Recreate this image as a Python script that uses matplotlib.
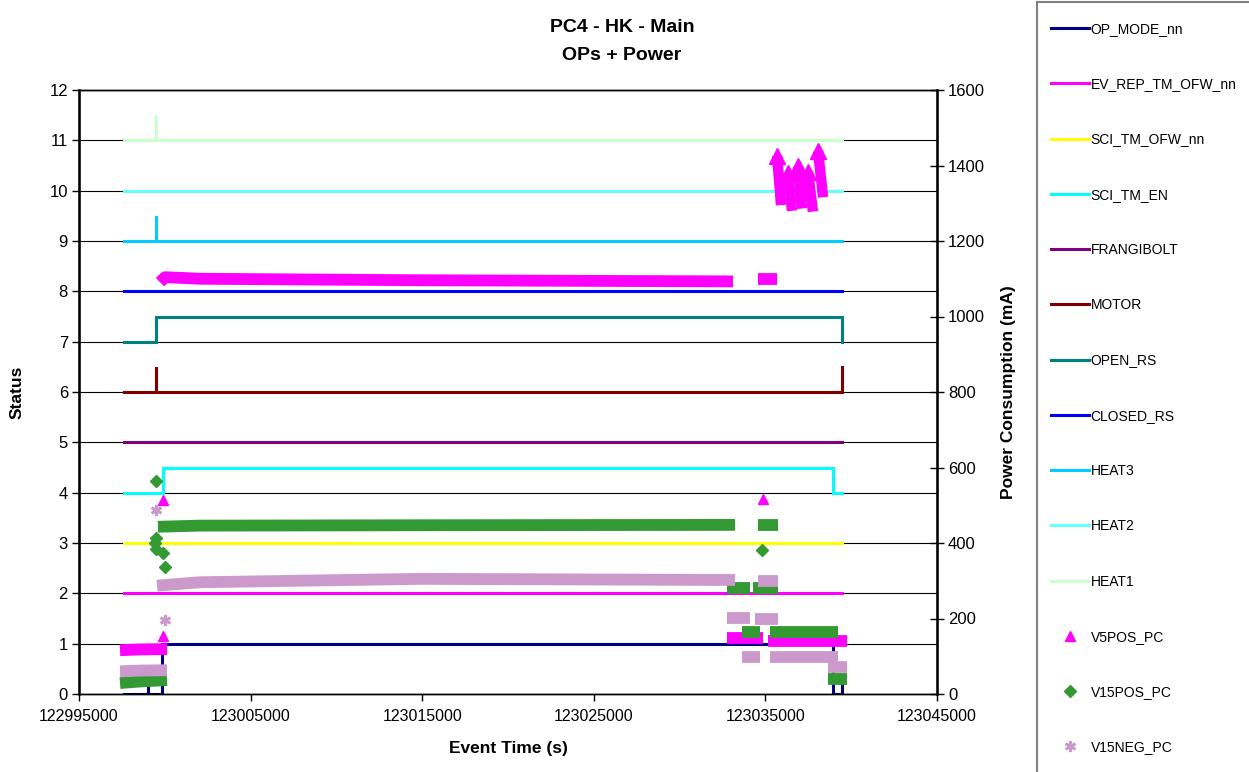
import matplotlib
matplotlib.use("Agg")
import matplotlib.pyplot as plt
from matplotlib.patches import Rectangle

plt.rcParams['font.family'] = ['Liberation Sans', 'DejaVu Sans']

# ---- status lines (left axis) : step points ----
T0 = 122997620
T1 = 123039460

OP_MODE_T = [T0, 122999020, 122999020, 122999020, 122999840, 122999840,
             123038940, 123038940, T1, T1]
OP_MODE_V = [0, 0, 0.5, 0, 0, 1, 1, 0, 0, 0.3]
EV_REP_T = [T0, T1]
EV_REP_V = [2, 2]
SCI_OFW_T = [T0, T1]
SCI_OFW_V = [3, 3]
SCI_EN_T = [T0, 122999900, 122999900, 123038940, 123038940, T1]
SCI_EN_V = [4, 4, 4.5, 4.5, 4, 4]
FRANGI_T = [T0, T1]
FRANGI_V = [5, 5]
MOTOR_T = [T0, 122999490, 122999490, 122999490, T1, T1]
MOTOR_V = [6, 6, 6.5, 6, 6, 6.5]
OPEN_RS_T = [T0, 122999490, 122999490, T1, T1]
OPEN_RS_V = [7, 7, 7.5, 7.5, 7]
CLOSED_RS_T = [T0, T1]
CLOSED_RS_V = [8, 8]
HEAT3_T = [T0, 122999490, 122999490, 122999490, T1]
HEAT3_V = [9, 9, 9.5, 9, 9]
HEAT2_T = [T0, T1]
HEAT2_V = [10, 10]
HEAT1_T = [T0, 122999490, 122999490, 122999490, T1]
HEAT1_V = [11, 11, 11.5, 11, 11]

# ---- power consumption (right axis, mA) ----
# isolated samples
V5POS_T = [122999880, 122999880, 123034840]
V5POS_MA = [514, 154, 516]
V15POS_T = [122999490, 122999490, 122999430, 122999490, 122999880, 123000010, 123034780]
V15POS_MA = [565, 413, 400, 384, 373, 336, 381]
V15NEG_T = [122999490, 123000010]
V15NEG_MA = [488, 196]

# dense runs of samples (read as time / value pairs along each run)
V5POS_BANDS = [
    ([122997390, 122998500, 123000130], [116, 118, 119]),
    ([122999720, 123000010, 123000600, 123002050, 123014870, 123033110],
     [1091, 1104, 1103, 1100, 1096, 1093]),
    ([123034570, 123035680], [1100, 1100]),
    ([123032760, 123034860], [148, 148]),
    ([123035150, 123039750], [140, 140]),
]
# short falling bursts near the end: (top time, bottom time), (top mA, bottom mA)
V5POS_BURSTS = [
    ((123035680, 123035910), (1426, 1295)),
    ((123036320, 123036550), (1381, 1280)),
    ((123036900, 123037130), (1398, 1286)),
    ((123037480, 123037770), (1384, 1278)),
    ((123038070, 123038360), (1438, 1316)),
]
V15POS_BANDS = [
    ([122997390, 122998500, 123000130], [29, 33, 37]),
    ([122999600, 123002050, 123014870, 123033230], [443, 446, 447, 448]),
    ([123034570, 123035730], [448, 448]),
    ([123032760, 123034100], [280, 280]),
    ([123034280, 123035730], [280, 280]),
    ([123033640, 123034690], [164, 164]),
    ([123035270, 123039230], [164, 164]),
    ([123038650, 123039750], [40, 40]),
]
V15NEG_BANDS = [
    ([122997390, 122998500, 123000130], [60, 62, 63]),
    ([122999550, 123002050, 123014870, 123033230], [287, 296, 305, 302]),
    ([123034570, 123035730], [299, 299]),
    ([123032760, 123034100], [201, 201]),
    ([123034390, 123035730], [199, 199]),
    ([123033640, 123034690], [98, 98]),
    ([123035270, 123039230], [98, 98]),
    ([123038650, 123039750], [72, 72]),
]

X_TICKS = [122995000, 123005000, 123015000, 123025000, 123035000, 123045000]

status_series = [
    ("OP_MODE_nn", "#000080", OP_MODE_T, OP_MODE_V),
    ("EV_REP_TM_OFW_nn", "#FF00FF", EV_REP_T, EV_REP_V),
    ("SCI_TM_OFW_nn", "#FFFF00", SCI_OFW_T, SCI_OFW_V),
    ("SCI_TM_EN", "#00FFFF", SCI_EN_T, SCI_EN_V),
    ("FRANGIBOLT", "#800080", FRANGI_T, FRANGI_V),
    ("MOTOR", "#800000", MOTOR_T, MOTOR_V),
    ("OPEN_RS", "#008080", OPEN_RS_T, OPEN_RS_V),
    ("CLOSED_RS", "#0000FF", CLOSED_RS_T, CLOSED_RS_V),
    ("HEAT3", "#00CCFF", HEAT3_T, HEAT3_V),
    ("HEAT2", "#66FFFF", HEAT2_T, HEAT2_V),
    ("HEAT1", "#CCFFCC", HEAT1_T, HEAT1_V),
]

fig = plt.figure(figsize=(12.49, 7.72), dpi=100)
ax = fig.add_axes([79 / 1249, 1 - 694 / 772, 858 / 1249, 604 / 772])
ax2 = ax.twinx()

handles = []
for label, color, t, v in status_series:
    ln, = ax.plot(t, v, color=color, lw=2.2, label=label, solid_joinstyle='miter')
    handles.append(ln)

# power series drawn on the secondary axis
band_lw = 8.5
power_series = [
    ("V5POS_PC", "#FF00FF", "^", 7.5, V5POS_T, V5POS_MA, V5POS_BANDS),
    ("V15POS_PC", "#339933", "D", 6.5, V15POS_T, V15POS_MA, V15POS_BANDS),
    ("V15NEG_PC", "#CC99CC", (6, 2, 0), 8, V15NEG_T, V15NEG_MA, V15NEG_BANDS),
]
for label, color, marker, ms, t, v, bands in power_series:
    for bt, bv in bands:
        ax2.plot(bt, bv, color=color, lw=band_lw, solid_capstyle='butt')
    mk, = ax2.plot(t, v, ls='none', marker=marker, ms=ms, color=color,
                   mec=color, mew=2 if marker == (6, 2, 0) else 1, label=label)
    handles.append(mk)

for (tt, tb), (vt, vb) in V5POS_BURSTS:
    ax2.plot([tt, tb], [vt, vb], color="#FF00FF", lw=7.5, solid_capstyle='butt')
    ax2.plot([tt], [vt], ls='none', marker='^', ms=11, color="#FF00FF")

# axes, ticks, grid
ax.set_xlim(X_TICKS[0], X_TICKS[-1])
ax.set_ylim(0, 12)
ax2.set_ylim(0, 1600)
ax.set_xticks(X_TICKS)
ax.set_xticklabels([str(x) for x in X_TICKS])
ax.set_yticks(range(0, 13))
ax2.set_yticks(range(0, 1601, 200))

ax.yaxis.grid(True, color='black', lw=0.8)
ax.set_axisbelow(True)

for a in (ax, ax2):
    for s in a.spines.values():
        s.set_color('black')
        s.set_linewidth(1.0)
ax.spines['left'].set_linewidth(1.8)
ax2.spines['right'].set_linewidth(1.8)

ax.tick_params(axis='y', direction='out', length=5, width=1, labelsize=12, pad=3)
ax.tick_params(axis='x', direction='out', length=5, width=1, labelsize=11.5, pad=6)
ax2.tick_params(axis='y', direction='inout', length=10, width=1, labelsize=12, pad=3)

ax.set_xlabel("Event Time (s)", fontsize=12.5, fontweight='bold', va='center')
ax.xaxis.set_label_coords(0.5, (694 - 748) / 604)
ax.set_ylabel("Status", fontsize=12.5, fontweight='bold', va='center')
ax.yaxis.set_label_coords((17 - 79) / 858, 0.5)
ax2.set_ylabel("Power Consumption (mA)", fontsize=12.5, fontweight='bold',
               va='center', rotation=90)
ax2.yaxis.set_label_coords((1008 - 79) / 858, 0.5)

fig.text(622 / 1249, 1 - 28 / 772, "PC4 - HK - Main", ha='center', va='center',
         fontsize=14, fontweight='bold')
fig.text(622 / 1249, 1 - 55 / 772, "OPs + Power", ha='center', va='center',
         fontsize=14, fontweight='bold')

# legend with a frame running off the figure edge, as in the original
fig.patches.append(Rectangle((1037 / 1249, -0.02), 0.2, 1 - 1.5 / 772 + 0.02,
                             transform=fig.transFigure, fill=False,
                             edgecolor='#808080', lw=1.5))
fig.legend(handles=handles, loc='upper left',
           bbox_to_anchor=(1051 / 1249, 1 - 22 / 772), frameon=False,
           fontsize=10, labelspacing=2.97, handlelength=2.7, handletextpad=0.15,
           borderpad=0, borderaxespad=0)

fig.savefig("out.png", dpi=100, facecolor='white')
